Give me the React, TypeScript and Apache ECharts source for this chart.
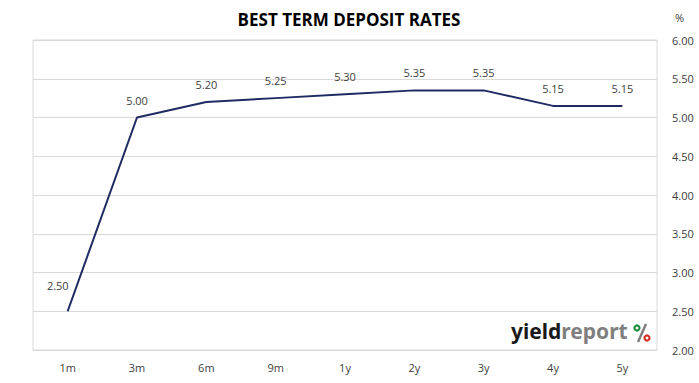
import React, { useEffect, useRef } from "react";
import * as echarts from "echarts";

const categories = ["1m", "3m", "6m", "9m", "1y", "2y", "3y", "4y", "5y"];
const rates = [2.5, 5.0, 5.2, 5.25, 5.3, 5.35, 5.35, 5.15, 5.15];
const yMin = 2;
const yMax = 6;
const yStep = 0.5;

export default function App() {
  const ref = useRef<HTMLDivElement>(null);
  useEffect(() => {
    document.body.style.margin = "0";
    if (!ref.current) return;
    const chart = echarts.init(ref.current, undefined, { renderer: "svg" });
    chart.setOption({
      animation: false,
      backgroundColor: "#ffffff",
      title: {
        text: "BEST TERM DEPOSIT RATES",
        left: 344,
        top: 6,
        textAlign: "center",
        textStyle: { fontFamily: "Open Sans", fontWeight: "bold", fontSize: 17, color: "#000" },
      },
      grid: { left: 33, right: 42, top: 40, bottom: 33, show: true, borderColor: "#d9d9d9", borderWidth: 1 },
      xAxis: {
        type: "category",
        data: categories,
        boundaryGap: true,
        axisLine: { show: false },
        axisTick: { show: false },
        axisLabel: { fontFamily: "Open Sans", fontSize: 11, color: "#404040", margin: 12 },
      },
      yAxis: {
        type: "value",
        position: "right",
        min: yMin,
        max: yMax,
        interval: yStep,
        name: "%",
        nameLocation: "end",
        nameGap: 17,
        nameTextStyle: { fontFamily: "Open Sans", fontSize: 11, color: "#404040", align: "left", padding: [0, 0, 0, 18] },
        axisLine: { show: false },
        axisTick: { show: false },
        splitLine: { lineStyle: { color: "#d9d9d9", width: 1 } },
        axisLabel: {
          fontFamily: "Open Sans",
          fontSize: 11,
          color: "#404040",
          margin: 15,
          formatter: (v: number) => v.toFixed(2),
        },
      },
      series: [
        {
          type: "line",
          data: rates.map((v, i) =>
            i === 0
              ? { value: v, label: { position: "left", offset: [13, -26] } }
              : { value: v }
          ),
          showSymbol: true,
          symbol: "circle",
          symbolSize: 2,
          itemStyle: { color: "rgba(0,0,0,0)", borderWidth: 0 },
          lineStyle: { color: "#1f2a63", width: 2 },
          label: {
            show: true,
            position: "top",
            distance: 11,
            fontFamily: "Open Sans",
            fontSize: 11,
            color: "#404040",
            formatter: (p: any) => Number(p.value).toFixed(2),
          },
        },
      ],
      graphic: [
        {
          type: "text",
          left: 511,
          top: 320,
          style: {
            text: "{a|yield}{b|report}",
            rich: {
              a: { fontFamily: "Noto Sans", fontWeight: "bold", fontSize: 21, fill: "#1a1a1a" },
              b: { fontFamily: "Noto Sans", fontWeight: "bold", fontSize: 21, fill: "#7f7f7f" },
            },
          },
        },
        { type: "line", shape: { x1: 638, y1: 342, x2: 646, y2: 324 }, style: { stroke: "#7f7f7f", lineWidth: 2.5 } },
        { type: "ring", shape: { cx: 637, cy: 328, r: 3.6, r0: 1.5 }, style: { fill: "#1e8a3c" } },
        { type: "ring", shape: { cx: 647, cy: 338, r: 3.6, r0: 1.5 }, style: { fill: "#d42a20" } },
      ],
    });
    return () => chart.dispose();
  }, []);
  return <div ref={ref} style={{ width: 699, height: 383 }} />;
}
